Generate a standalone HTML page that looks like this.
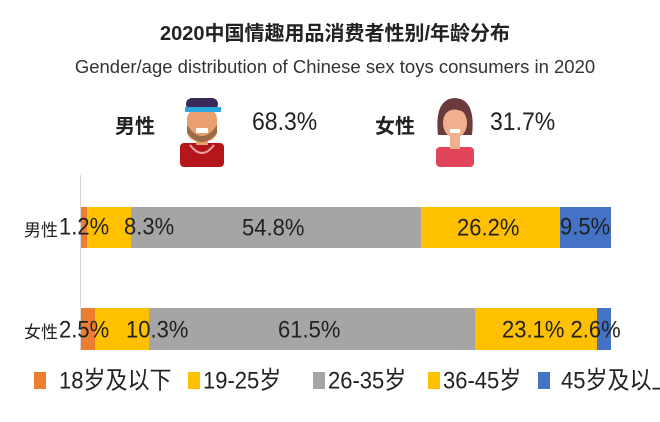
<!DOCTYPE html>
<html><head><meta charset="utf-8"><style>
body{margin:0;width:660px;height:422px;background:#fff;position:relative;overflow:hidden;font-family:"Liberation Sans","Noto Sans CJK SC",sans-serif;color:#222}
.a{position:absolute;white-space:nowrap}
.s{position:absolute}
.l{position:absolute;font-size:22px;line-height:26px;white-space:nowrap;color:#222;transform:scaleY(1.1)}
</style></head><body>
<div class="a" style="left:0;width:670px;text-align:center;top:17px;font-size:20px;font-weight:bold">2020中国情趣用品消费者性别/年龄分布</div>
<div class="a" style="left:0;width:670px;text-align:center;top:56px;font-size:18.5px;color:#333">Gender/age distribution of Chinese sex toys consumers in 2020</div>

<div class="a" style="left:115px;top:110px;font-size:20px;font-weight:bold">男性</div>
<svg class="s" style="left:176px;top:95px" width="52" height="72">
<rect x="4" y="48" width="44" height="24" fill="#b5161c" rx="4"/>
<path d="M14 50 Q26 66 38 50" stroke="#e8a0a0" fill="none" stroke-width="2"/>
<rect x="20" y="38" width="12" height="12" fill="#e9a070"/>
<rect x="11" y="14" width="30" height="32" rx="10" fill="#e9a070"/>
<path d="M11 30 Q26 52 41 30 L41 38 Q26 56 11 38Z" fill="#9c6b4a"/>
<rect x="20" y="33" width="12" height="5" fill="#fff"/>
<rect x="10" y="3" width="32" height="12" rx="6" fill="#3a2a5a"/>
<rect x="9" y="12" width="36" height="5" fill="#2aa9de"/>
</svg>
<div class="a" style="left:252px;top:108px;font-size:23px;transform:scaleY(1.1)">68.3%</div>

<div class="a" style="left:375px;top:110px;font-size:20px;font-weight:bold">女性</div>
<svg class="s" style="left:432px;top:95px" width="46" height="72">
<path d="M6 40 Q2 4 23 3 Q44 4 40 40 Z" fill="#6b3a3a"/>
<rect x="4" y="52" width="38" height="20" fill="#e0455a" rx="4"/>
<rect x="18" y="40" width="10" height="14" fill="#f0b090"/>
<ellipse cx="23" cy="28" rx="12" ry="15" fill="#f0b090"/>
<path d="M11 22 Q20 8 36 20 L36 12 Q23 2 11 14Z" fill="#6b3a3a"/>
<rect x="18" y="34" width="10" height="4" fill="#fff"/>
</svg>
<div class="a" style="left:490px;top:108px;font-size:23px;transform:scaleY(1.1)">31.7%</div>

<div class="s" style="left:80px;top:175px;width:1px;height:176px;background:#d8d8d8"></div>

<div class="s" style="left:81px;top:207px;width:6px;height:41px;background:#ed7d31"></div>
<div class="s" style="left:87px;top:207px;width:44px;height:41px;background:#ffc000"></div>
<div class="s" style="left:131px;top:207px;width:290px;height:41px;background:#a5a5a5"></div>
<div class="s" style="left:421px;top:207px;width:139px;height:41px;background:#ffc000"></div>
<div class="s" style="left:560px;top:207px;width:51px;height:41px;background:#4472c4"></div>

<div class="s" style="left:81px;top:308px;width:14px;height:42px;background:#ed7d31"></div>
<div class="s" style="left:95px;top:308px;width:54px;height:42px;background:#ffc000"></div>
<div class="s" style="left:149px;top:308px;width:326px;height:42px;background:#a5a5a5"></div>
<div class="s" style="left:475px;top:308px;width:122px;height:42px;background:#ffc000"></div>
<div class="s" style="left:597px;top:308px;width:14px;height:42px;background:#4472c4"></div>

<div class="a" style="left:24px;top:216px;font-size:17px">男性</div>
<div class="l" style="left:59px;top:214px">1.2%</div>
<div class="l" style="left:124px;top:214px">8.3%</div>
<div class="l" style="left:242px;top:215px">54.8%</div>
<div class="l" style="left:457px;top:215px">26.2%</div>
<div class="l" style="left:560px;top:214px">9.5%</div>

<div class="a" style="left:24px;top:318px;font-size:17px">女性</div>
<div class="l" style="left:59px;top:317px">2.5%</div>
<div class="l" style="left:126px;top:317px">10.3%</div>
<div class="l" style="left:278px;top:317px">61.5%</div>
<div class="l" style="left:502px;top:317px">23.1% 2.6%</div>

<div class="s" style="left:34px;top:372px;width:12px;height:17px;background:#ed7d31"></div>
<div class="l" style="left:59px;top:368px">18岁及以下</div>
<div class="s" style="left:188px;top:372px;width:12px;height:17px;background:#ffc000"></div>
<div class="l" style="left:203px;top:368px">19-25岁</div>
<div class="s" style="left:313px;top:372px;width:12px;height:17px;background:#a5a5a5"></div>
<div class="l" style="left:328px;top:368px">26-35岁</div>
<div class="s" style="left:428px;top:372px;width:12px;height:17px;background:#ffc000"></div>
<div class="l" style="left:443px;top:368px">36-45岁</div>
<div class="s" style="left:538px;top:372px;width:12px;height:17px;background:#4472c4"></div>
<div class="l" style="left:561px;top:368px">45岁及以上</div>
</body></html>
